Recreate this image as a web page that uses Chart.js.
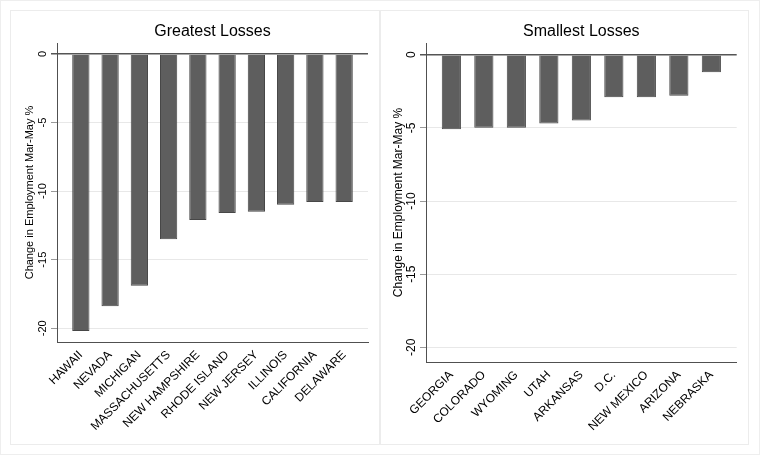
<!DOCTYPE html>
<html>
<head>
<meta charset="utf-8">
<script src="https://cdn.jsdelivr.net/npm/chart.js@4"></script>
<style>
  body { margin: 0; background: #fff; }
  #frame { position: absolute; left: 0; top: 0; width: 758px; height: 453px; border: 1px solid #eeeeee; }
  .panel { position: absolute; top: 10px; height: 433px; border: 1px solid #ececec; }
  #leftBox { left: 10px; width: 368px; }
  #rightBox { left: 380px; width: 367px; }
</style>
</head>
<body>
<div id="frame"></div>
<div class="panel" id="leftBox"><canvas id="greatestChart"></canvas></div>
<div class="panel" id="rightBox"><canvas id="smallestChart"></canvas></div>
<script>
// values (percent change in employment, Mar-May)
var greatestStates = ['HAWAII', 'NEVADA', 'MICHIGAN', 'MASSACHUSETTS', 'NEW HAMPSHIRE',
                      'RHODE ISLAND', 'NEW JERSEY', 'ILLINOIS', 'CALIFORNIA', 'DELAWARE'];
var greatestValues = [-20.2, -18.4, -16.9, -13.5, -12.1, -11.6, -11.5, -11.0, -10.8, -10.8];

var smallestStates = ['GEORGIA', 'COLORADO', 'WYOMING', 'UTAH', 'ARKANSAS',
                      'D.C.', 'NEW MEXICO', 'ARIZONA', 'NEBRASKA'];
var smallestValues = [-5.1, -5.0, -5.0, -4.7, -4.5, -2.9, -2.9, -2.8, -1.2];

var yTicks = [0, -5, -10, -15, -20];

var FONT = "'Liberation Sans', Arial, sans-serif";

function makeChart(id, title, states, values, opt) {
    var ctx = document.getElementById(id).getContext('2d');
    return new Chart(ctx, {
        type: 'bar',
        data: {
            datasets: [{
                data: values.map(function (v, i) { return { x: i, y: v }; }),
                backgroundColor: '#5e5e5e',
                borderColor: '#474747',
                borderWidth: 1,
                categoryPercentage: 1,
                barPercentage: 0.59
            }]
        },
        options: {
            responsive: true,
            maintainAspectRatio: false,
            animation: false,
            layout: { padding: { left: 0, right: opt.padRight, top: 0, bottom: 0 } },
            plugins: {
                legend: { display: false },
                tooltip: { enabled: false },
                title: {
                    display: true,
                    text: title,
                    fullSize: false,
                    color: '#000',
                    font: { family: FONT, size: 16, weight: 'normal' },
                    padding: { top: 11, bottom: 1.8 }
                }
            },
            scales: {
                x: {
                    type: 'linear',
                    offset: false,
                    min: -opt.xPad,
                    max: states.length - 1 + opt.xPad,
                    afterBuildTicks: function (s) {
                        s.ticks = states.map(function (_, i) { return { value: i }; });
                    },
                    afterFit: function (s) { s.height = opt.xHeight; },
                    grid: { display: false, drawTicks: false },
                    border: { display: true, color: '#505050', width: 1 },
                    ticks: {
                        autoSkip: false,
                        minRotation: 45,
                        maxRotation: 45,
                        padding: 6,
                        color: '#000',
                        font: { family: FONT, size: 12 },
                        callback: function (v) { return states[v]; }
                    }
                },
                y: {
                    min: -21,
                    max: 0.8,
                    afterBuildTicks: function (s) {
                        s.ticks = yTicks.map(function (v) { return { value: v }; });
                    },
                    afterFit: function (s) { s.width = opt.yWidth; },
                    grid: {
                        color: function (c) { return c.tick && c.tick.value === 0 ? '#555555' : '#e8e8e8'; },
                        tickColor: function (c) { return c.tick && c.tick.value === 0 ? '#555555' : '#9a9a9a'; },
                        lineWidth: function (c) { return c.tick && c.tick.value === 0 ? 1.5 : 1; },
                        tickLength: 6
                    },
                    border: { display: true, color: '#505050', width: 1 },
                    ticks: {
                        minRotation: 90,
                        maxRotation: 90,
                        crossAlign: 'center',
                        padding: 0,
                        color: '#000',
                        font: { family: FONT, size: opt.yFont }
                    },
                    title: {
                        display: true,
                        text: 'Change in Employment Mar-May %',
                        color: '#000',
                        font: { family: FONT, size: opt.yFont },
                        padding: { top: opt.titlePad, bottom: 0 }
                    }
                }
            }
        }
    });
}

makeChart('greatestChart', 'Greatest Losses', greatestStates, greatestValues,
    { xPad: 0.815, xHeight: 102, yWidth: 46, padRight: 11, yFont: 11, titlePad: 12.4 });
makeChart('smallestChart', 'Smallest Losses', smallestStates, smallestValues,
    { xPad: 0.78, xHeight: 82, yWidth: 45, padRight: 11.3, yFont: 12, titlePad: 10.8 });
</script>
</body>
</html>
